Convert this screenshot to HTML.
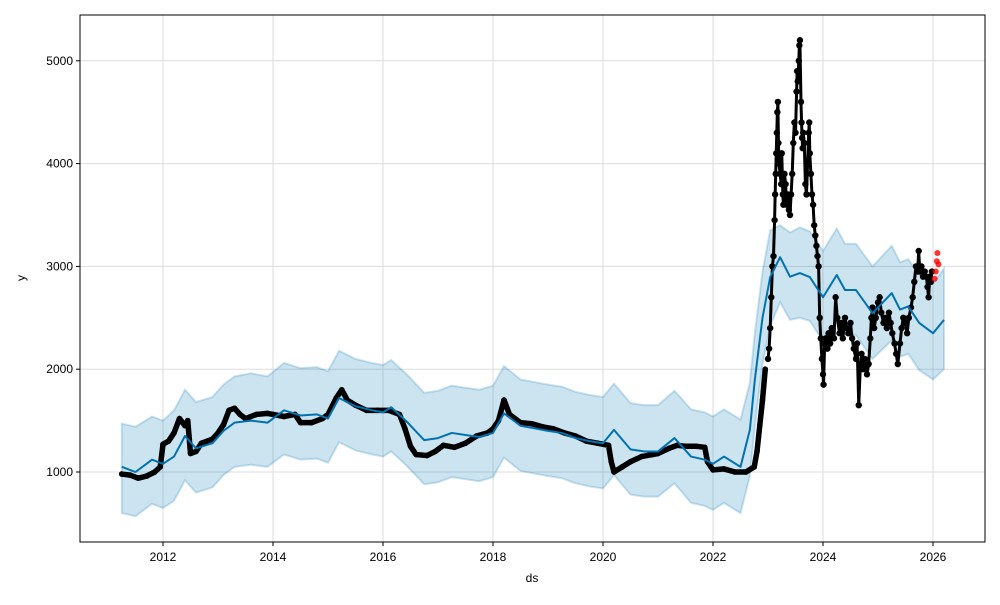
<!DOCTYPE html>
<html><head><meta charset="utf-8">
<style>
body{margin:0;background:#fff;font-family:"Liberation Sans",sans-serif;}
svg text{font-family:"Liberation Sans",sans-serif;font-size:12px;fill:#000;}
</style></head>
<body>
<svg id="chart" width="1000" height="600" xmlns="http://www.w3.org/2000/svg">
<rect width="1000" height="600" fill="#fff"/>
<g id="grid"></g>
<g id="band"></g>
<g id="obs"></g>
<g id="yhatg"></g>
<g id="fut"></g>
<rect x="80" y="15" width="905" height="527" fill="none" stroke="#000" stroke-width="1"/>
<g id="axes"></g>
<text x="532" y="582" text-anchor="middle">ds</text>
<text x="25" y="278" text-anchor="middle" transform="rotate(-90 25 278)">y</text>
</svg>
<script>
const xTicks=[2012,2014,2016,2018,2020,2022,2024,2026];
const yTicks=[1000,2000,3000,4000,5000];
const fcT=[2011.25,2011.5,2011.8,2012.0,2012.2,2012.4,2012.6,2012.9,2013.1,2013.3,2013.6,2013.9,2014.2,2014.5,2014.8,2015.0,2015.2,2015.5,2015.8,2016.0,2016.15,2016.45,2016.75,2017.0,2017.25,2017.5,2017.75,2018.0,2018.2,2018.5,2018.8,2019.0,2019.25,2019.5,2019.75,2020.0,2020.2,2020.5,2020.75,2021.0,2021.3,2021.6,2021.85,2022.0,2022.2,2022.5,2022.67,2022.76,2022.9,2023.04,2023.22,2023.4,2023.58,2023.76,2024.0,2024.25,2024.4,2024.6,2024.9,2025.25,2025.4,2025.55,2025.75,2026.0,2026.2];
const yhat=[1050,1000,1120,1080,1150,1350,1230,1280,1400,1480,1500,1480,1600,1550,1560,1520,1720,1640,1600,1580,1630,1480,1310,1330,1380,1360,1340,1380,1570,1450,1420,1400,1380,1330,1300,1280,1410,1220,1200,1200,1330,1150,1120,1080,1150,1050,1410,1895,2500,2896,3090,2900,2935,2896,2700,2916,2770,2770,2545,2740,2580,2610,2450,2350,2480];
const upper=[1470,1440,1540,1500,1600,1800,1680,1730,1850,1930,1960,1930,2060,2010,2020,1980,2180,2100,2060,2040,2090,1940,1770,1790,1840,1820,1800,1840,2030,1900,1870,1850,1830,1780,1750,1730,1860,1670,1650,1650,1790,1610,1580,1540,1610,1510,1870,2350,2950,3350,3400,3330,3380,3340,3150,3370,3220,3220,3000,3200,3040,3070,2920,2830,2980];
const lower=[600,570,690,650,720,920,800,850,970,1050,1070,1050,1170,1120,1130,1090,1290,1210,1170,1150,1200,1050,880,900,950,930,910,950,1140,1010,980,960,940,890,860,840,970,780,760,760,890,700,670,630,700,600,960,1440,2050,2420,2650,2480,2500,2470,2270,2480,2330,2330,2100,2280,2120,2150,1990,1900,2000];
const obsT=[2011.25,2011.4,2011.55,2011.7,2011.85,2011.95,2012.0,2012.1,2012.2,2012.3,2012.4,2012.45,2012.5,2012.6,2012.7,2012.8,2012.9,2013.0,2013.1,2013.2,2013.3,2013.4,2013.5,2013.7,2013.9,2014.0,2014.2,2014.4,2014.5,2014.7,2014.9,2015.0,2015.15,2015.25,2015.35,2015.5,2015.7,2015.9,2016.1,2016.3,2016.4,2016.5,2016.6,2016.8,2016.95,2017.1,2017.3,2017.5,2017.7,2017.9,2018.0,2018.1,2018.2,2018.3,2018.5,2018.7,2018.9,2019.1,2019.3,2019.5,2019.7,2019.9,2020.0,2020.1,2020.15,2020.2,2020.35,2020.5,2020.7,2020.9,2021.0,2021.2,2021.35,2021.5,2021.7,2021.85,2021.9,2022.0,2022.2,2022.4,2022.6,2022.75,2022.8,2022.85,2022.9,2022.95];
const obsV=[980,970,940,960,1000,1050,1270,1300,1380,1520,1450,1500,1180,1200,1280,1300,1320,1380,1460,1600,1620,1560,1520,1560,1570,1560,1540,1560,1480,1480,1520,1560,1720,1800,1700,1650,1600,1600,1600,1560,1420,1250,1170,1160,1200,1260,1240,1280,1350,1380,1420,1500,1700,1560,1480,1470,1440,1420,1380,1350,1300,1280,1270,1260,1100,1000,1050,1100,1150,1170,1180,1230,1260,1250,1250,1240,1100,1020,1030,1000,1000,1050,1200,1450,1700,2000];
const volT=[2023.0,2023.02,2023.04,2023.06,2023.08,2023.1,2023.12,2023.13,2023.14,2023.15,2023.16,2023.17,2023.18,2023.19,2023.2,2023.22,2023.24,2023.25,2023.27,2023.28,2023.3,2023.32,2023.34,2023.36,2023.38,2023.4,2023.42,2023.44,2023.46,2023.48,2023.5,2023.52,2023.53,2023.54,2023.56,2023.57,2023.58,2023.6,2023.61,2023.62,2023.63,2023.64,2023.66,2023.68,2023.7,2023.72,2023.74,2023.75,2023.76,2023.78,2023.8,2023.82,2023.84,2023.86,2023.88,2023.9,2023.92,2023.94,2023.96,2023.98,2024.0,2024.01,2024.03,2024.05,2024.08,2024.1,2024.13,2024.16,2024.2,2024.23,2024.26,2024.3,2024.33,2024.36,2024.4,2024.43,2024.46,2024.5,2024.53,2024.56,2024.6,2024.62,2024.65,2024.68,2024.7,2024.73,2024.76,2024.8,2024.83,2024.86,2024.88,2024.9,2024.93,2024.96,2025.0,2025.03,2025.06,2025.1,2025.13,2025.16,2025.2,2025.23,2025.26,2025.3,2025.33,2025.36,2025.4,2025.43,2025.46,2025.5,2025.53,2025.56,2025.6,2025.63,2025.66,2025.69,2025.72,2025.74,2025.76,2025.79,2025.82,2025.85,2025.88,2025.9,2025.92,2025.94,2025.96,2025.98];
const volV=[2100,2200,2400,2700,3000,3100,3450,3700,3900,4100,4300,4500,4600,4200,4000,3900,3800,4100,3700,3600,3900,3800,3600,3700,3550,3500,3700,3900,4200,4400,4300,4700,4900,4800,5000,5150,5200,4600,4400,4250,4150,4300,4200,3800,3700,4000,4300,4400,4100,3900,3700,3600,3400,3300,3200,3100,3000,2500,2300,2100,1950,1850,2250,2300,2200,2350,2250,2400,2300,2700,2500,2350,2450,2300,2500,2400,2350,2450,2300,2200,2100,2250,1650,2050,2150,2000,2100,1950,2050,2300,2500,2600,2400,2500,2650,2700,2550,2450,2500,2400,2550,2450,2350,2250,2150,2050,2250,2400,2500,2450,2350,2500,2600,2700,2850,3000,2950,3150,2950,3000,2900,2950,2900,2800,2700,2900,2850,2950];
const futT=[2026.03,2026.05,2026.07,2026.08,2026.1];
const futV=[2880,2950,3050,3130,3020];

const X=t=>163+(t-2012)*55;
const Y=v=>472-(v-1000)*0.1028;
const NS='http://www.w3.org/2000/svg';
function mk(tag,parent,attrs){const e=document.createElementNS(NS,tag);for(const k in attrs)e.setAttribute(k,attrs[k]);parent.appendChild(e);return e;}
const grid=document.getElementById('grid'),axes=document.getElementById('axes');
xTicks.forEach(t=>{
  const l=mk('line',grid,{x1:X(t),x2:X(t),y1:15,y2:542,stroke:'#ddd','stroke-width':1});
  
  
  const tk=mk('line',axes,{x1:X(t),x2:X(t),y1:542,y2:546,stroke:'#000'});
  
  
  const tx=mk('text',axes,{x:X(t),y:561,'text-anchor':'middle'});tx.textContent=t;
  
  
});
yTicks.forEach(v=>{
  const l=mk('line',grid,{x1:80,x2:985,y1:Y(v),y2:Y(v),stroke:'#ddd','stroke-width':1});
  
  
  const tk=mk('line',axes,{x1:76,x2:80,y1:Y(v),y2:Y(v),stroke:'#000'});
  
  
  const tx=mk('text',axes,{x:73,y:Y(v)+4,'text-anchor':'end'});tx.textContent=v;
  
  
});
let up=fcT.map((t,i)=>X(t)+','+Y(upper[i]));
let lo=fcT.map((t,i)=>X(t)+','+Y(lower[i])).reverse();
const band=mk('polygon',document.getElementById('band'),{points:up.concat(lo).join(' '),fill:'#0072B2','fill-opacity':0.2,stroke:'#0072B2','stroke-opacity':0.2,'stroke-width':2});


const og=document.getElementById('obs');
const ol=mk('polyline',og,{points:obsT.map((t,i)=>X(t)+','+Y(obsV[i])).join(' '),fill:'none',stroke:'#000','stroke-width':5.5,'stroke-linejoin':'round','stroke-linecap':'round'});


const vl=mk('polyline',og,{points:volT.map((t,i)=>X(t)+','+Y(volV[i])).join(' '),fill:'none',stroke:'#000','stroke-width':3,'stroke-linejoin':'round','stroke-linecap':'round'});


obsT.forEach((t,i)=>{
  const c=mk('circle',og,{cx:X(t),cy:Y(obsV[i]),r:2.8,fill:'#000'});
  
  
});
volT.forEach((t,i)=>{
  const c=mk('circle',og,{cx:X(t),cy:Y(volV[i]),r:3.2,fill:'#000'});
  
  
});
const yl=mk('polyline',document.getElementById('yhatg'),{points:fcT.map((t,i)=>X(t)+','+Y(yhat[i])).join(' '),fill:'none',stroke:'#0072B2','stroke-width':2,'stroke-linejoin':'round'});


futT.forEach((t,i)=>{
  const c=mk('circle',document.getElementById('fut'),{cx:X(t),cy:Y(futV[i]),r:3,fill:'#ff0000','fill-opacity':0.8});
  
  
});
</script>
</body></html>
